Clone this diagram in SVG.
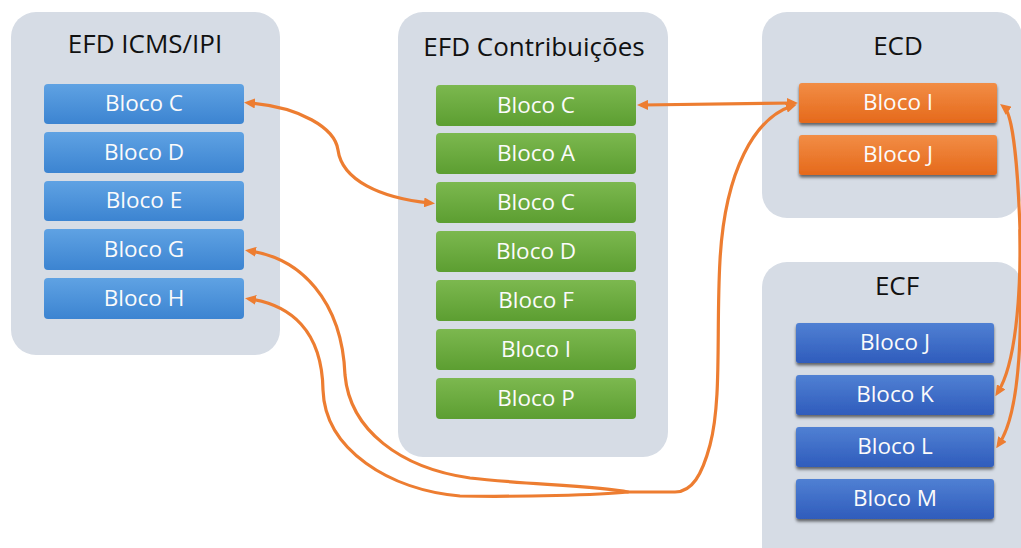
<svg xmlns="http://www.w3.org/2000/svg" width="1021" height="548" viewBox="0 0 1021 548">
  <defs>
    <linearGradient id="gBlueLight" x1="0" y1="0" x2="0" y2="1">
      <stop offset="0" stop-color="#5fa2e3"/>
      <stop offset="1" stop-color="#3c84d1"/>
    </linearGradient>
    <linearGradient id="gGreen" x1="0" y1="0" x2="0" y2="1">
      <stop offset="0" stop-color="#7cb84f"/>
      <stop offset="1" stop-color="#5c9e31"/>
    </linearGradient>
    <linearGradient id="gOrange" x1="0" y1="0" x2="0" y2="1">
      <stop offset="0" stop-color="#f28d45"/>
      <stop offset="1" stop-color="#e5691b"/>
    </linearGradient>
    <linearGradient id="gBlueDark" x1="0" y1="0" x2="0" y2="1">
      <stop offset="0" stop-color="#5080d3"/>
      <stop offset="1" stop-color="#2f5cbc"/>
    </linearGradient>
    <filter id="shadow" x="-10%" y="-20%" width="120%" height="160%">
      <feDropShadow dx="0" dy="2.5" stdDeviation="1.6" flood-color="#000" flood-opacity="0.55"/>
    </filter>
    <marker id="arrow" viewBox="0 0 11 10" refX="6" refY="5" markerWidth="11" markerHeight="10" markerUnits="userSpaceOnUse" orient="auto-start-reverse">
      <path d="M0,0 L11,5 L0,10 z" fill="#ed7d31"/>
    </marker>
  </defs>
  <style>
    .panel { fill: #d6dce5; }
    .title { font-family: "Open Sans", "Liberation Sans", sans-serif; font-size: 26px; fill: #111; text-anchor: middle; }
    .lbl { font-family: "Open Sans", "Liberation Sans", sans-serif; font-size: 22.5px; fill: #fbfbfb; text-anchor: middle; }
    .bl { fill: url(#gBlueLight); }
    .gr { fill: url(#gGreen); }
    .or { fill: url(#gOrange); filter: url(#shadow); }
    .bd { fill: url(#gBlueDark); filter: url(#shadow); }
    .link { fill: none; stroke: #ed7d31; stroke-width: 3.2; stroke-linecap: round; stroke-linejoin: round; }
  </style>

  <rect width="1021" height="548" fill="#ffffff"/>

  <!-- EFD ICMS/IPI -->
  <g id="efd-icms-ipi">
    <rect class="panel" x="11" y="12" width="269" height="343" rx="25"/>
    <text class="title" x="145" y="53">EFD ICMS/IPI</text>
    <g id="icms-bloco-c"><rect class="bl" x="44" y="84" width="200" height="40" rx="4"/><text class="lbl" x="144" y="111">Bloco C</text></g>
    <g id="icms-bloco-d"><rect class="bl" x="44" y="132" width="200" height="41" rx="4"/><text class="lbl" x="144" y="160">Bloco D</text></g>
    <g id="icms-bloco-e"><rect class="bl" x="44" y="181" width="200" height="40" rx="4"/><text class="lbl" x="144" y="208">Bloco E</text></g>
    <g id="icms-bloco-g"><rect class="bl" x="44" y="229" width="200" height="41" rx="4"/><text class="lbl" x="144" y="257">Bloco G</text></g>
    <g id="icms-bloco-h"><rect class="bl" x="44" y="278" width="200" height="41" rx="4"/><text class="lbl" x="144" y="306">Bloco H</text></g>
  </g>

  <!-- EFD Contribuições -->
  <g id="efd-contribuicoes">
    <rect class="panel" x="398" y="12" width="270" height="445" rx="25"/>
    <text class="title" x="534" y="56">EFD Contribuições</text>
    <g id="contrib-bloco-c1"><rect class="gr" x="436" y="85" width="200" height="41" rx="4"/><text class="lbl" x="536" y="113">Bloco C</text></g>
    <g id="contrib-bloco-a"><rect class="gr" x="436" y="133" width="200" height="41" rx="4"/><text class="lbl" x="536" y="161">Bloco A</text></g>
    <g id="contrib-bloco-c2"><rect class="gr" x="436" y="182" width="200" height="41" rx="4"/><text class="lbl" x="536" y="210">Bloco C</text></g>
    <g id="contrib-bloco-d"><rect class="gr" x="436" y="231" width="200" height="41" rx="4"/><text class="lbl" x="536" y="259">Bloco D</text></g>
    <g id="contrib-bloco-f"><rect class="gr" x="436" y="280" width="200" height="41" rx="4"/><text class="lbl" x="536" y="308">Bloco F</text></g>
    <g id="contrib-bloco-i"><rect class="gr" x="436" y="329" width="200" height="41" rx="4"/><text class="lbl" x="536" y="357">Bloco I</text></g>
    <g id="contrib-bloco-p"><rect class="gr" x="436" y="378" width="200" height="41" rx="4"/><text class="lbl" x="536" y="406">Bloco P</text></g>
  </g>

  <!-- ECD -->
  <g id="ecd">
    <rect class="panel" x="762" y="12" width="260" height="206" rx="25"/>
    <text class="title" x="898" y="55">ECD</text>
    <g id="ecd-bloco-i"><rect class="or" x="799" y="83" width="198" height="40" rx="3"/><text class="lbl" x="898" y="110">Bloco I</text></g>
    <g id="ecd-bloco-j"><rect class="or" x="799" y="135" width="198" height="40" rx="3"/><text class="lbl" x="898" y="162">Bloco J</text></g>
  </g>

  <!-- ECF -->
  <g id="ecf">
    <rect class="panel" x="762" y="262" width="260" height="310" rx="25"/>
    <text class="title" x="897" y="295">ECF</text>
    <g id="ecf-bloco-j"><rect class="bd" x="796" y="323" width="198" height="40" rx="3"/><text class="lbl" x="895" y="350">Bloco J</text></g>
    <g id="ecf-bloco-k"><rect class="bd" x="796" y="375" width="198" height="40" rx="3"/><text class="lbl" x="895" y="402">Bloco K</text></g>
    <g id="ecf-bloco-l"><rect class="bd" x="796" y="427" width="198" height="40" rx="3"/><text class="lbl" x="895" y="454">Bloco L</text></g>
    <g id="ecf-bloco-m"><rect class="bd" x="796" y="479" width="198" height="40" rx="3"/><text class="lbl" x="895" y="506">Bloco M</text></g>
  </g>

  <!-- connectors -->
  <g id="connectors">
    <path class="link" marker-start="url(#arrow)" marker-end="url(#arrow)" d="M 249,103 C 300,107 335,128 338,150 C 342,180 380,198 430,203"/>
    <path class="link" marker-start="url(#arrow)" marker-end="url(#arrow)" d="M 642,105 L 793,103"/>
    <path class="link" marker-start="url(#arrow)" marker-end="url(#arrow)" d="M 792,106 C 755,118 725,170 720,260 C 716,330 722,400 710,445 C 702,475 692,492 675,492 L 628,492 C 600,486 520,484 470,478 C 400,468 350,430 345,375 C 342,300 300,258 250,251"/>
    <path class="link" marker-end="url(#arrow)" d="M 628,492 C 600,495 520,497 460,496 C 390,490 325,450 323,390 C 322,330 290,305 250,299"/>
    <path class="link" marker-start="url(#arrow)" marker-end="url(#arrow)" d="M 1004,107 C 1013,114 1018,170 1020,230 C 1021,300 1015,365 998,392"/>
    <path class="link" marker-end="url(#arrow)" d="M 1020,230 C 1022,320 1022,410 999,444"/>
  </g>
</svg>
